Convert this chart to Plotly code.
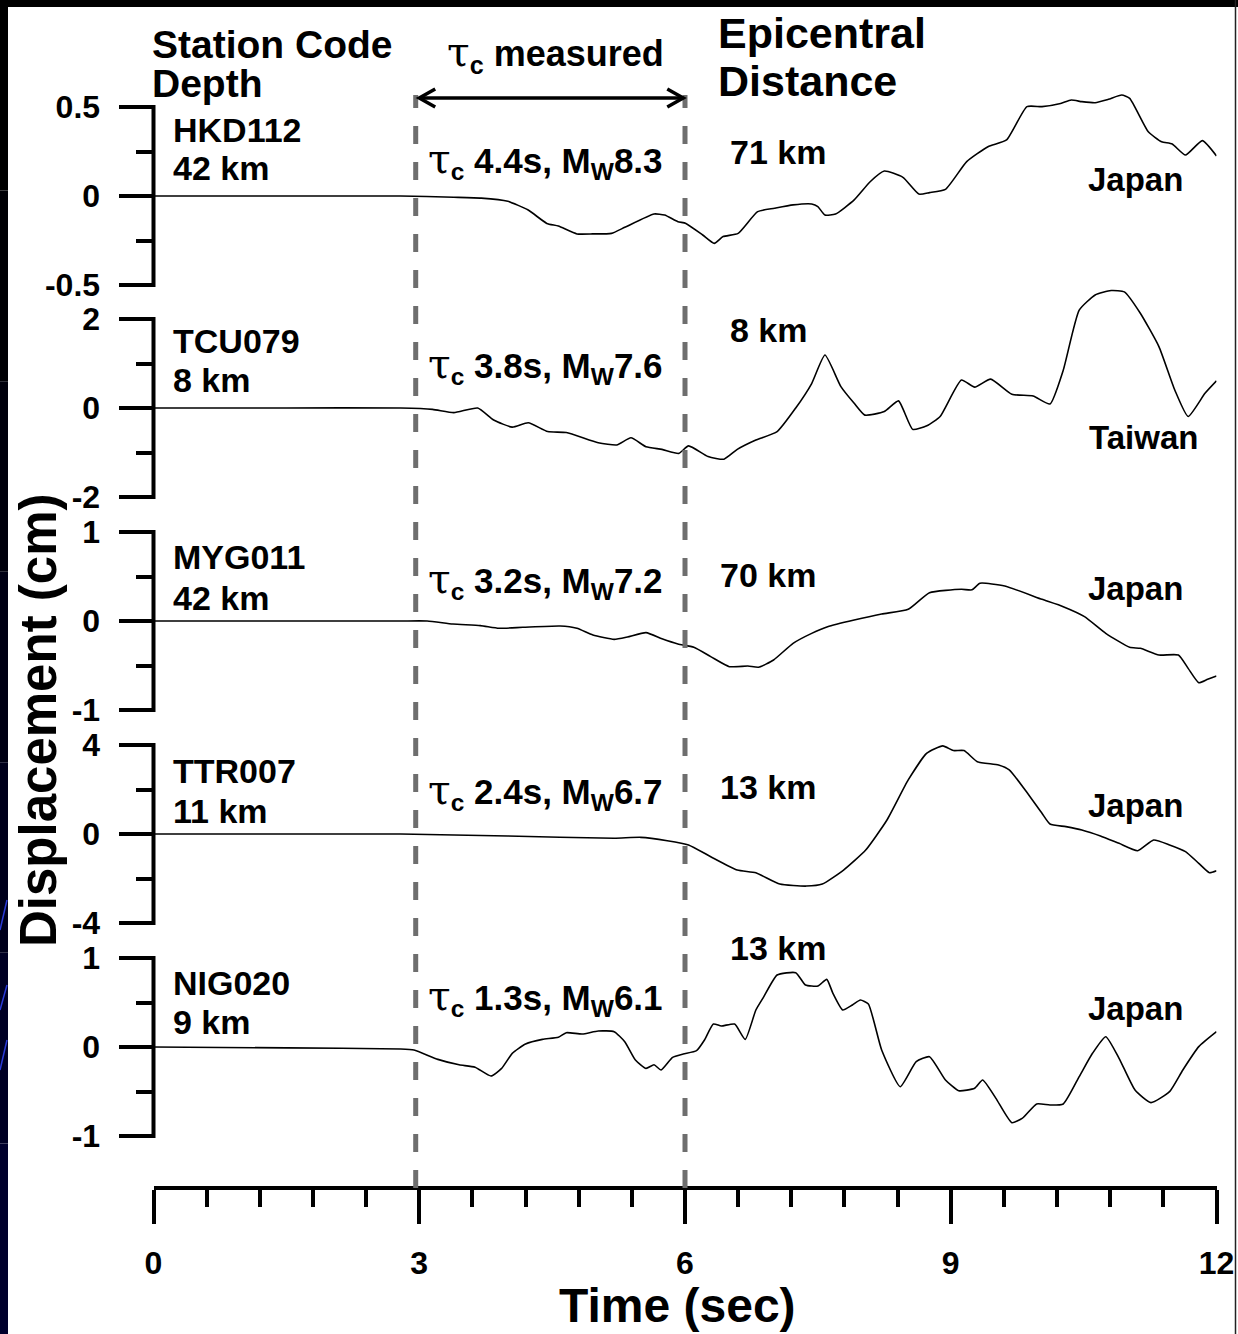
import plotly.graph_objects as go

# ---------------- data ----------------
time_ticks = [0, 3, 6, 9, 12]
time_tick_labels = ["0", "3", "6", "9", "12"]
minor_time_ticks = [0.6, 1.2, 1.8, 2.4, 3.6, 4.2, 4.8, 5.4, 6.6, 7.2, 7.8, 8.4,
                    9.6, 10.2, 10.8, 11.4]

stations = ["HKD112", "TCU079", "MYG011", "TTR007", "NIG020"]
depths = ["42 km", "8 km", "42 km", "11 km", "9 km"]
tau_c = ["4.4", "3.8", "3.2", "2.4", "1.3"]
mw = ["8.3", "7.6", "7.2", "6.7", "6.1"]
distances = ["71 km", "8 km", "70 km", "13 km", "13 km"]
regions = ["Japan", "Taiwan", "Japan", "Japan", "Japan"]
y_limits = [0.5, 2, 1, 4, 1]
y_tick_labels = [["0.5", "0", "-0.5"], ["2", "0", "-2"], ["1", "0", "-1"],
                 ["4", "0", "-4"], ["1", "0", "-1"]]
window_start, window_end = 2.96, 6.0

t_hkd112 = [0, 1.5, 2.79, 3.39, 3.7, 4.0, 4.23, 4.44, 4.57, 4.78, 4.96, 5.17, 5.32, 5.65, 5.77,
            5.92, 6.01, 6.2, 6.33, 6.43, 6.6, 6.82, 7.01, 7.22, 7.43, 7.5, 7.58, 7.7, 7.91,
            8.09, 8.25, 8.46, 8.64, 8.76, 8.94, 9.18, 9.42, 9.63, 9.86, 10.03, 10.24, 10.36,
            10.48, 10.63, 10.78, 10.93, 11.02, 11.23, 11.38, 11.5, 11.65, 11.84, 12.0]
d_hkd112 = [0, 0, 0, -0.007, -0.012, -0.03, -0.079, -0.154, -0.169, -0.213, -0.213, -0.21, -0.176,
            -0.101, -0.107, -0.144, -0.154, -0.219, -0.266, -0.228, -0.21, -0.088, -0.069,
            -0.05, -0.045, -0.06, -0.107, -0.101, -0.022, 0.08, 0.14, 0.105, 0.011, 0.019,
            0.037, 0.193, 0.277, 0.315, 0.502, 0.502, 0.52, 0.539, 0.53, 0.524, 0.543, 0.567,
            0.549, 0.361, 0.305, 0.292, 0.23, 0.311, 0.225]

t_tcu079 = [0, 1.5, 2.79, 3.15, 3.39, 3.66, 3.84, 4.05, 4.23, 4.45, 4.66, 5.02, 5.23, 5.39,
            5.56, 5.74, 5.93, 6.04, 6.26, 6.44, 6.59, 6.8, 7.04, 7.25, 7.43, 7.58, 7.76, 7.91,
            8.03, 8.25, 8.41, 8.57, 8.73, 8.88, 9.12, 9.27, 9.45, 9.69, 9.93, 10.12, 10.27,
            10.45, 10.63, 10.81, 10.96, 11.14, 11.35, 11.53, 11.68, 11.87, 12.0]
d_tcu079 = [0, 0, 0, -0.03, -0.105, 0, -0.27, -0.43, -0.33, -0.53, -0.55, -0.78, -0.83, -0.67,
            -0.87, -0.93, -1.02, -0.85, -1.09, -1.15, -0.93, -0.72, -0.53, 0, 0.55, 1.19, 0.48,
            0.105, -0.16, -0.08, 0.16, -0.48, -0.40, -0.19, 0.63, 0.47, 0.65, 0.31, 0.27, 0.09,
            0.85, 2.2, 2.54, 2.64, 2.61, 2.13, 1.38, 0.40, -0.19, 0.33, 0.61]

t_myg011 = [0, 1.5, 2.79, 3.09, 3.38, 3.69, 3.9, 4.17, 4.59, 4.78, 4.96, 5.2, 5.35, 5.56,
            5.74, 5.92, 6.1, 6.29, 6.5, 6.71, 6.83, 7.0, 7.22, 7.43, 7.61, 7.91, 8.22, 8.52,
            8.76, 9.12, 9.24, 9.33, 9.61, 10.03, 10.27, 10.51, 10.75, 11.02, 11.14, 11.35,
            11.57, 11.68, 11.8, 11.9, 12.0]
d_myg011 = [0, 0, 0, 0, -0.034, -0.052, -0.082, -0.071, -0.056, -0.082, -0.157, -0.206, -0.18,
            -0.131, -0.2, -0.258, -0.296, -0.4, -0.513, -0.506, -0.52, -0.438, -0.251, -0.139,
            -0.064, 0.011, 0.079, 0.131, 0.318, 0.356, 0.35, 0.424, 0.393, 0.243, 0.161, 0.049,
            -0.139, -0.296, -0.307, -0.382, -0.382, -0.532, -0.693, -0.655, -0.618]

t_ttr007 = [0, 1.5, 2.79, 4.0, 5.2, 5.5, 5.8, 6.04, 6.29, 6.59, 6.8, 7.07, 7.37, 7.55, 7.79,
            8.04, 8.28, 8.52, 8.73, 8.91, 9.03, 9.15, 9.3, 9.54, 9.66, 9.84, 10.03, 10.12, 10.3,
            10.48, 10.69, 10.9, 11.11, 11.29, 11.47, 11.65, 11.8, 11.92, 12.0]
d_ttr007 = [0, 0, 0, -0.09, -0.19, -0.15, -0.3, -0.49, -1.02, -1.62, -1.74, -2.25, -2.34, -2.25,
            -1.62, -0.72, 0.63, 2.43, 3.63, 3.96, 3.75, 3.75, 3.25, 3.1, 2.88, 1.98, 0.93, 0.45,
            0.33, 0.18, -0.09, -0.42, -0.75, -0.27, -0.49, -0.79, -1.32, -1.74, -1.65]

t_nig020 = [0, 1.5, 2.79, 2.94, 3.21, 3.45, 3.63, 3.81, 3.93, 4.05, 4.2, 4.39, 4.57, 4.66,
            4.84, 5.02, 5.2, 5.32, 5.44, 5.56, 5.65, 5.73, 5.86, 5.98, 6.13, 6.22, 6.32, 6.41,
            6.56, 6.68, 6.8, 6.89, 7.04, 7.25, 7.36, 7.5, 7.6, 7.67, 7.78, 7.89, 7.98, 8.07,
            8.22, 8.43, 8.61, 8.76, 8.94, 9.09, 9.27, 9.36, 9.51, 9.69, 9.81, 9.97, 10.12,
            10.27, 10.45, 10.6, 10.75, 10.9, 11.08, 11.26, 11.47, 11.62, 11.8, 12.0]
d_nig020 = [0, -0.01, -0.022, -0.034, -0.139, -0.2, -0.228, -0.326, -0.24, -0.071, 0.034,
            0.086, 0.109, 0.161, 0.146, 0.18, 0.172, 0.06, -0.146, -0.24, -0.2, -0.258, -0.116,
            -0.079, -0.041, 0.079, 0.258, 0.236, 0.258, 0.086, 0.416, 0.566, 0.809, 0.835,
            0.697, 0.685, 0.76, 0.603, 0.416, 0.472, 0.528, 0.483, -0.034, -0.446, -0.165,
            -0.109, -0.371, -0.491, -0.464, -0.371, -0.577, -0.85, -0.8, -0.64, -0.652, -0.64,
            -0.333, -0.071, 0.116, -0.127, -0.483, -0.625, -0.502, -0.258, 0.004, 0.172]

times = [t_hkd112, t_tcu079, t_myg011, t_ttr007, t_nig020]
disps = [d_hkd112, d_tcu079, d_myg011, d_ttr007, d_nig020]

# ---------------- layout geometry (pixels) ----------------
W, H = 1238, 1334
X_L, X_R = 153.5, 1216.5
PANEL_TOP = [107, 319, 532, 745, 958]
PANEL_H = 178
PAD = 45
X_AXIS_Y = 1188
FONT = "Liberation Sans, Arial, Helvetica, sans-serif"


def px(xp):
    return xp / W


def py(yp):
    return 1 - yp / H


fig = go.Figure()
layout_axes = {}
shapes = []
annotations = []

for i in range(5):
    lim = y_limits[i]
    top = PANEL_TOP[i]
    bot = top + PANEL_H
    u = 2 * lim / PANEL_H
    yname = "y" if i == 0 else f"y{i + 1}"
    akey = "yaxis" if i == 0 else f"yaxis{i + 1}"
    fig.add_trace(go.Scatter(x=times[i], y=disps[i], mode="lines", xaxis="x", yaxis=yname,
                             line=dict(color="black", width=1.6, shape="spline", smoothing=0.5),
                             showlegend=False, hoverinfo="skip"))
    layout_axes[akey] = dict(
        domain=[py(bot + PAD), py(top - PAD)],
        range=[-lim - PAD * u, lim + PAD * u],
        anchor="free", position=px(X_L), side="left", automargin=False,
        showgrid=False, zeroline=False, showline=False,
        tickmode="array", tickvals=[lim, 0, -lim], ticktext=y_tick_labels[i],
        ticks="outside", ticklen=35, tickwidth=4, tickcolor="black",
        ticklabelstandoff=12,
        tickfont=dict(family=FONT, size=32, color="black", weight="bold"),
        minor=dict(tickmode="array", tickvals=[lim / 2, -lim / 2], ticks="outside",
                   ticklen=18, tickwidth=4, tickcolor="black", showgrid=False),
        fixedrange=True,
    )
    # vertical axis bar of the bracket
    shapes.append(dict(type="line", xref="paper", yref=yname, x0=px(X_L), x1=px(X_L),
                       y0=-lim - 2 * u, y1=lim + 2 * u, line=dict(color="black", width=4)))

layout_axes["xaxis"] = dict(
    domain=[px(X_L), px(X_R)], range=[0, 12], anchor="free", position=py(X_AXIS_Y),
    automargin=False,
    showgrid=False, zeroline=False, showline=True, linewidth=4, linecolor="black",
    tickmode="array", tickvals=time_ticks, ticktext=time_tick_labels,
    ticks="outside", ticklen=34, tickwidth=4, tickcolor="black",
    ticklabelstandoff=12,
    tickfont=dict(family=FONT, size=32, color="black", weight="bold"),
    minor=dict(tickmode="array", tickvals=minor_time_ticks, ticks="outside", ticklen=17,
               tickwidth=4, tickcolor="black", showgrid=False),
    fixedrange=True,
)

# dashed tau_c window lines
for xv in (window_start, window_end):
    shapes.append(dict(type="line", xref="x", yref="paper", x0=xv, x1=xv,
                       y0=py(X_AXIS_Y), y1=py(95),
                       line=dict(color="#6e6e6e", width=5, dash="18px,18px")))

# double arrow
ya = py(98)
shapes.append(dict(type="line", xref="x", yref="paper", x0=3.0, x1=5.98, y0=ya, y1=ya,
                   line=dict(color="black", width=3.5)))
dx, dy = 0.18, 9 / H
shapes.append(dict(type="path", xref="x", yref="paper",
                   path=f"M {3.0 + dx},{ya + dy} L 3.0,{ya} L {3.0 + dx},{ya - dy}",
                   line=dict(color="black", width=3.5)))
shapes.append(dict(type="path", xref="x", yref="paper",
                   path=f"M {5.98 - dx},{ya + dy} L 5.98,{ya} L {5.98 - dx},{ya - dy}",
                   line=dict(color="black", width=3.5)))

# slide frame (dark strips at top/left, thin right edge)
shapes.append(dict(type="rect", xref="paper", yref="paper", x0=0, x1=1, y0=py(7), y1=1,
                   fillcolor="black", line=dict(width=0), layer="above"))
left_cols = ["#000000", "#000005", "#00000c", "#000014", "#00001c", "#000024", "#00002c"]
seg = H / len(left_cols)
for k, c in enumerate(left_cols):
    shapes.append(dict(type="rect", xref="paper", yref="paper", x0=0, x1=px(8),
                       y0=py((k + 1) * seg), y1=py(k * seg), fillcolor=c, line=dict(width=0)))
for (y_a, y_b) in [(900, 930), (985, 1010), (1040, 1070)]:
    shapes.append(dict(type="line", xref="paper", yref="paper", x0=0, x1=px(7),
                       y0=py(y_b), y1=py(y_a), line=dict(color="#2a3ad8", width=1.5)))
shapes.append(dict(type="line", xref="paper", yref="paper", x0=px(1235.5), x1=px(1235.5),
                   y0=0, y1=1, line=dict(color="#222222", width=1.5)))


def ann(text, xp, yp, size, xanchor="left", angle=0):
    annotations.append(dict(text=text, x=px(xp), y=py(yp), xref="paper", yref="paper",
                            xanchor=xanchor, yanchor="middle", showarrow=False,
                            textangle=angle, borderpad=0,
                            font=dict(family=FONT, size=size, color="black", weight="bold")))


TAU = ('<span style="font-family:\'DejaVu Serif\',serif;font-weight:normal;'
       'font-size:41px">τ</span>')

ann("Station Code", 151, 45, 39)
ann("Depth", 151, 84, 39)
ann(TAU + "<sub>c</sub> measured", 555, 53, 36, "center")
ann("Epicentral", 717, 33, 43)
ann("Distance", 717, 81, 43)

label_y = [(130, 168), (341, 380), (557, 598), (771, 811), (983, 1022)]
tau_y = [160, 365, 580, 791, 997]
dist_pos = [(729, 152), (729, 330), (719, 575), (719, 787), (729, 948)]
region_pos = [(1184, 180), (1199, 437), (1184, 588), (1184, 805), (1184, 1008)]
for i in range(5):
    ann(stations[i], 172, label_y[i][0], 34)
    ann(depths[i], 172, label_y[i][1], 34)
    ann(TAU + f"<sub>c</sub> {tau_c[i]}s, M<sub>W</sub>{mw[i]}", 427, tau_y[i], 35)
    ann(distances[i], dist_pos[i][0], dist_pos[i][1], 34)
    ann(regions[i], region_pos[i][0], region_pos[i][1], 33, "right")

ann("Displacement (cm)", 38, 721, 51, "center", -90)
ann("Time (sec)", 677, 1305, 48, "center")

fig.update_layout(
    width=W, height=H, autosize=False,
    margin=dict(l=0, r=0, t=0, b=0, pad=0, autoexpand=False),
    paper_bgcolor="white", plot_bgcolor="rgba(0,0,0,0)",
    showlegend=False, shapes=shapes, annotations=annotations,
    **layout_axes,
)

fig.write_html("out.html", config={"displayModeBar": False, "responsive": False},
               post_script="document.body.style.margin='0';"
                           "document.body.style.overflow='hidden';")
